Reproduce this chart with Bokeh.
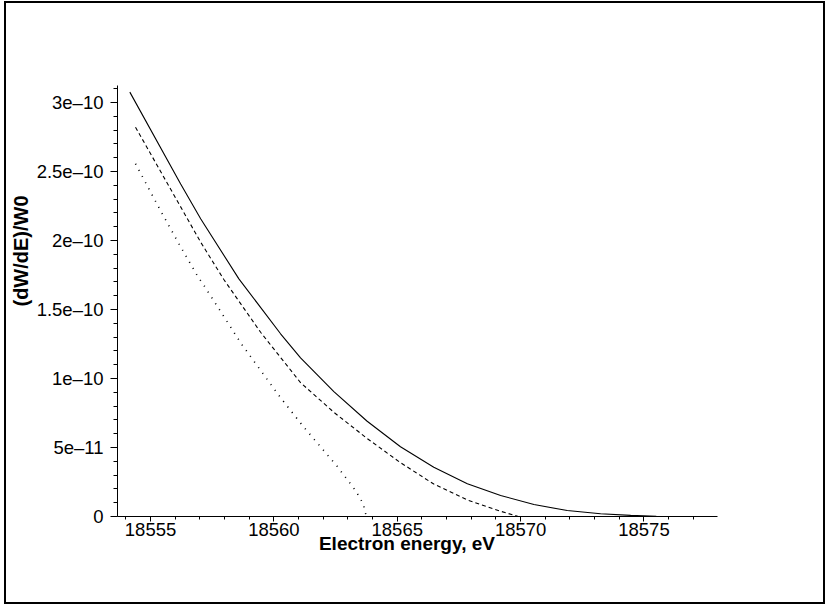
from bokeh.plotting import figure
from bokeh.models import FixedTicker, Range1d
from bokeh.embed import file_html
from bokeh.resources import INLINE

# ---- data ----
energy_solid = [18554.16, 18556.22, 18557.03, 18558.58, 18560.27, 18561.08, 18562.43,
                18563.78, 18565.13, 18566.48, 18567.84, 18569.19, 18570.54, 18571.89,
                18573.24, 18574.46, 18575.5, 18576.5]
rate_solid = [3.075e-10, 2.41e-10, 2.157e-10, 1.722e-10, 1.324e-10, 1.15e-10, 0.905e-10,
              0.69e-10, 0.505e-10, 0.357e-10, 0.237e-10, 0.152e-10, 0.087e-10, 0.043e-10,
              0.02e-10, 0.008e-10, 0.002e-10, 0.0]

energy_dash = [18554.39, 18557.03, 18557.97, 18559.46, 18561.08, 18562.43,
               18563.78, 18565.13, 18566.48, 18567.84, 18569.19, 18569.9]
rate_dash = [2.821e-10, 1.988e-10, 1.717e-10, 1.335e-10, 0.97e-10, 0.755e-10,
             0.565e-10, 0.39e-10, 0.235e-10, 0.12e-10, 0.038e-10, 0.0]

energy_dot = [18554.39, 18555.38, 18556.15, 18556.93, 18557.14, 18558.68, 18560.23,
              18561.19, 18562.57, 18563.31, 18563.62, 18563.72, 18563.75]
rate_dot = [2.556e-10, 2.224e-10, 1.976e-10, 1.734e-10, 1.681e-10, 1.251e-10, 0.87e-10,
            0.652e-10, 0.362e-10, 0.188e-10, 0.092e-10, 0.02e-10, 0.0]

x_ticks = [18555, 18560, 18565, 18570, 18575]
x_tick_labels = ["18555", "18560", "18565", "18570", "18575"]
x_minor = [18554, 18556, 18557, 18558, 18559, 18561, 18562, 18563, 18564, 18566, 18567,
           18568, 18569, 18571, 18572, 18573, 18574, 18576, 18577, 18578]
y_ticks = [0.0, 5e-11, 1e-10, 1.5e-10, 2e-10, 2.5e-10, 3e-10]
y_tick_labels = ["0", "5e\u201311", "1e\u201310", "1.5e\u201310", "2e\u201310", "2.5e\u201310", "3e\u201310"]
y_minor = [1e-11, 2e-11, 3e-11, 4e-11, 6e-11, 7e-11, 8e-11, 9e-11, 1.1e-10, 1.2e-10,
           1.3e-10, 1.4e-10, 1.6e-10, 1.7e-10, 1.8e-10, 1.9e-10, 2.1e-10, 2.2e-10,
           2.3e-10, 2.4e-10, 2.6e-10, 2.7e-10, 2.8e-10, 2.9e-10, 3.1e-10]

x_label = "Electron energy, eV"
y_label = "(dW/dE)/W0"

FONT = "Liberation Sans"
NBSP = "\u00a0"

p = figure(width=817, height=599, output_backend="svg", toolbar_location=None,
           x_range=Range1d(18553.66, 18577.98), y_range=Range1d(0, 3.123e-10),
           frame_width=600, frame_height=431,
           min_border_left=111, min_border_right=106, min_border_top=82, min_border_bottom=86)
p.styles = {"border": "2px solid black", "margin-left": "4px", "margin-top": "1px"}
p.outline_line_color = None
p.grid.visible = False
p.background_fill_color = "white"
p.border_fill_color = "white"

p.line(energy_solid, rate_solid, line_color="black", line_width=1.1)
p.line(energy_dash, rate_dash, line_color="black", line_width=1.1, line_dash="4 3")
p.line(energy_dot, rate_dot, line_color="black", line_width=1.6, line_dash="1 6")

xa = p.xaxis[0]
xa.ticker = FixedTicker(ticks=x_ticks, minor_ticks=x_minor)
xa.major_label_overrides = {t: l for t, l in zip(x_ticks, x_tick_labels)}
xa.major_tick_in = 0
xa.major_tick_out = 5
xa.minor_tick_in = 0
xa.minor_tick_out = 3
xa.major_label_standoff = 1
xa.axis_label = x_label + NBSP * 4
xa.axis_label_standoff = -6
xa.axis_label_text_font_size = "19px"

ya = p.yaxis[0]
ya.ticker = FixedTicker(ticks=y_ticks, minor_ticks=y_minor)
ya.major_label_overrides = {t: l for t, l in zip(y_ticks, y_tick_labels)}
ya.major_tick_in = 0
ya.major_tick_out = 7
ya.minor_tick_in = 0
ya.minor_tick_out = 4
ya.major_label_standoff = 7
ya.axis_label = NBSP * 18 + y_label
ya.axis_label_standoff = 2
ya.axis_label_text_font_size = "20px"

for ax in (xa, ya):
    ax.axis_line_color = "black"
    ax.major_tick_line_color = "black"
    ax.minor_tick_line_color = "black"
    ax.major_label_text_font = FONT
    ax.major_label_text_font_size = "18.5px"
    ax.major_label_text_color = "black"
    ax.axis_label_text_font = FONT
    ax.axis_label_text_font_style = "bold"
    ax.axis_label_text_color = "black"

open("out.html", "w").write(file_html(p, INLINE))
